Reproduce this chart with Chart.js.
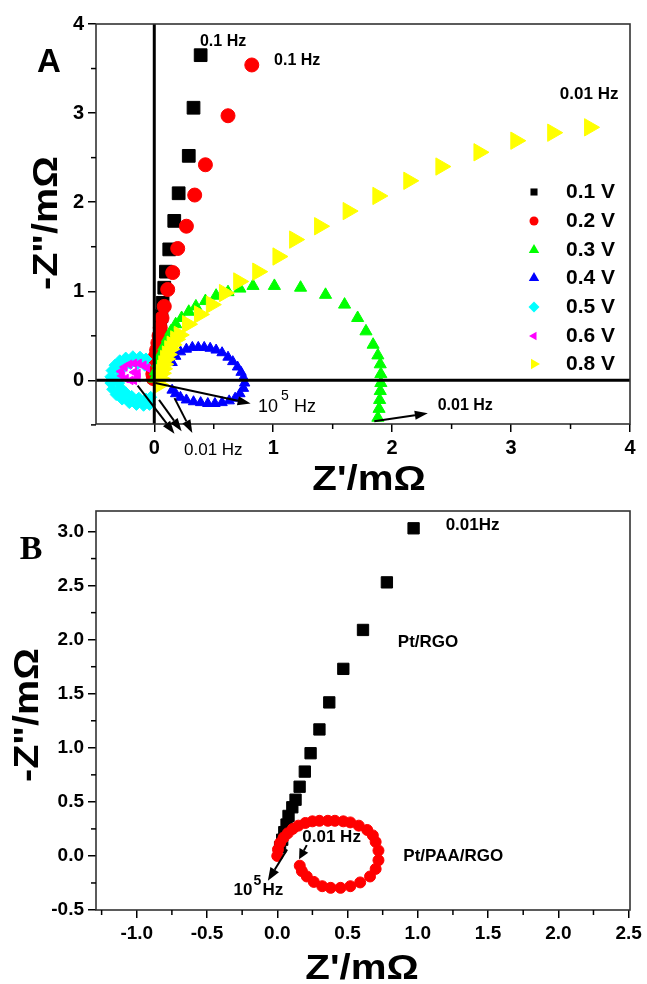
<!DOCTYPE html>
<html><head><meta charset="utf-8">
<script src="https://cdn.jsdelivr.net/npm/chart.js@4/dist/chart.umd.min.js"></script>
<style>
html,body{margin:0;padding:0;background:#fff;}
#wrap{position:relative;width:647px;height:984px;overflow:hidden;background:#fff;}
canvas{position:absolute;left:0;}
</style></head><body>
<div id="wrap">
<canvas id="cA" width="647" height="490" style="top:0px"></canvas>
<canvas id="cB" width="647" height="494" style="top:490px"></canvas>
</div>
<script>
// ---------------- DATA (panel A) ----------------
const labelsA = ['0.1 V','0.2 V','0.3 V','0.4 V','0.5 V','0.6 V','0.8 V'];
const xTicksA = [0,1,2,3,4];
const yTicksA = [0,1,2,3,4];
const v01 = [[0.39,3.65],[0.33,3.06],[0.29,2.52],[0.205,2.10],[0.168,1.79],[0.126,1.47],[0.098,1.22],[0.084,1.04],[0.07,0.87],[0.06,0.72],[0.05,0.58],[0.04,0.45],[0.03,0.33],[0.02,0.22],[0.01,0.12],[0.0,0.04]];
const v02 = [[0.82,3.54],[0.62,2.97],[0.43,2.42],[0.34,2.08],[0.27,1.73],[0.197,1.48],[0.155,1.21],[0.113,1.02],[0.084,0.83],[0.065,0.70],[0.05,0.59],[0.04,0.50],[0.03,0.42],[0.02,0.34],[0.01,0.27],[0.0,0.20],[-0.008,0.13],[-0.012,0.07],[-0.008,0.02]];
const v03 = [[0.0,0.02],[0.01,0.10],[0.03,0.19],[0.05,0.28],[0.08,0.38],[0.11,0.47],[0.14,0.55],[0.18,0.63],[0.23,0.70],[0.29,0.77],[0.35,0.83],[0.43,0.89],[0.52,0.95],[0.62,0.99],[0.72,1.03],[0.83,1.06],[1.01,1.06],[1.23,1.04],[1.44,0.96],[1.60,0.85],[1.71,0.70],[1.78,0.55],[1.84,0.40],[1.88,0.28],[1.90,0.18],[1.905,0.07],[1.905,-0.03],[1.90,-0.12],[1.895,-0.22],[1.89,-0.32],[1.88,-0.42]];
const v04 = [[0.15,0.20],[0.18,0.27],[0.22,0.32],[0.27,0.35],[0.32,0.37],[0.37,0.37],[0.42,0.37],[0.47,0.36],[0.52,0.34],[0.57,0.31],[0.62,0.26],[0.66,0.21],[0.70,0.15],[0.73,0.09],[0.75,0.03],[0.76,-0.03],[0.75,-0.09],[0.72,-0.15],[0.68,-0.20],[0.63,-0.23],[0.57,-0.25],[0.51,-0.26],[0.45,-0.26],[0.39,-0.25],[0.33,-0.24],[0.27,-0.22],[0.22,-0.19],[0.18,-0.15],[0.15,-0.11]];
const v05 = [[-0.07,0.24],[-0.12,0.26],[-0.18,0.265],[-0.24,0.25],[-0.29,0.22],[-0.33,0.17],[-0.355,0.11],[-0.365,0.04],[-0.365,-0.03],[-0.35,-0.10],[-0.32,-0.16],[-0.27,-0.21],[-0.21,-0.25],[-0.15,-0.27],[-0.09,-0.28],[-0.04,-0.27],
             [-0.08,0.17],[-0.14,0.19],[-0.20,0.19],[-0.25,0.16],[-0.29,0.11],[-0.30,0.04],[-0.30,-0.03],[-0.28,-0.09],[-0.24,-0.14],[-0.19,-0.18],[-0.13,-0.20],[-0.07,-0.21],[-0.03,-0.19]];
const v06 = [[-0.06,0.14],[-0.09,0.17],[-0.13,0.19],[-0.17,0.19],[-0.21,0.18],[-0.25,0.15],[-0.28,0.10],[-0.27,0.05],[-0.24,0.02],[-0.20,0.0],[-0.17,0.0],[-0.14,0.03],[-0.14,0.08],[-0.17,0.09]];
const v08 = [[0.04,-0.05],[0.05,0.02],[0.06,0.08],[0.07,0.13],[0.08,0.18],[0.095,0.24],[0.11,0.29],[0.13,0.35],[0.15,0.40],[0.18,0.46],[0.21,0.51],[0.28,0.63],[0.38,0.74],[0.48,0.85],[0.59,0.98],[0.71,1.11],[0.87,1.22],[1.04,1.39],[1.18,1.58],[1.39,1.73],[1.63,1.90],[1.88,2.07],[2.14,2.24],[2.41,2.40],[2.73,2.56],[3.04,2.69],[3.35,2.78],[3.66,2.84]];

// ---------------- DATA (panel B) ----------------
const xTicksB = [-1.0,-0.5,0.0,0.5,1.0,1.5,2.0,2.5];
const yTicksB = [-0.5,0.0,0.5,1.0,1.5,2.0,2.5,3.0];
const ptRGO = [[0.97,3.03],[0.78,2.53],[0.61,2.09],[0.47,1.73],[0.37,1.42],[0.30,1.17],[0.237,0.95],[0.196,0.78],[0.159,0.64],[0.13,0.52],[0.107,0.45],[0.08,0.37],[0.066,0.29],[0.05,0.22],[0.035,0.15],[0.02,0.08]];
const ptPAARGO = [[0.0,0.0],[0.005,0.06],[0.02,0.12],[0.045,0.17],[0.075,0.21],[0.11,0.25],[0.15,0.28],[0.20,0.305],[0.25,0.32],[0.30,0.325],[0.36,0.325],[0.41,0.325],[0.47,0.32],[0.52,0.31],[0.58,0.28],[0.64,0.24],[0.68,0.19],[0.70,0.13],[0.72,0.05],[0.72,-0.04],[0.70,-0.12],[0.66,-0.19],[0.59,-0.245],[0.52,-0.28],[0.45,-0.295],[0.38,-0.295],[0.32,-0.28],[0.26,-0.24],[0.21,-0.19],[0.175,-0.14],[0.16,-0.09]];

// ---------------- helpers ----------------
const SANS = '"Liberation Sans", Arial, sans-serif';
const SERIF = '"Liberation Serif", "Times New Roman", serif';
const pts = a => a.map(p => ({x:p[0], y:p[1]}));

function ds(label, arr, color, style, radius, rot, order){
  return {label, data: pts(arr), backgroundColor: color, borderColor: color, borderWidth: 1,
          pointStyle: style, pointRadius: radius, pointRotation: rot || 0, pointHoverRadius: radius, order};
}

function marker(ctx, style, color, x, y, r, rot){
  ctx.save(); ctx.fillStyle = color; ctx.translate(x, y); ctx.rotate((rot||0)*Math.PI/180);
  ctx.beginPath();
  if (style === 'rect'){ const s = r*Math.SQRT1_2; ctx.rect(-s,-s,2*s,2*s); }
  else if (style === 'circle'){ ctx.arc(0,0,r,0,Math.PI*2); }
  else if (style === 'rectRot'){ ctx.moveTo(0,-r); ctx.lineTo(r,0); ctx.lineTo(0,r); ctx.lineTo(-r,0); ctx.closePath(); }
  else { for (let i=0;i<3;i++){ const a = i*2*Math.PI/3; const px = Math.sin(a)*r, py = -Math.cos(a)*r; i?ctx.lineTo(px,py):ctx.moveTo(px,py);} ctx.closePath(); }
  ctx.fill(); ctx.restore();
}

function arrow(ctx, x1, y1, x2, y2, headLen, headW, lw){
  const ang = Math.atan2(y2-y1, x2-x1);
  const bx = x2 - Math.cos(ang)*headLen, by = y2 - Math.sin(ang)*headLen;
  ctx.save(); ctx.strokeStyle = '#000'; ctx.fillStyle = '#000'; ctx.lineWidth = lw;
  ctx.beginPath(); ctx.moveTo(x1,y1); ctx.lineTo(bx,by); ctx.stroke();
  ctx.beginPath(); ctx.moveTo(x2,y2);
  ctx.lineTo(bx + Math.sin(ang)*headW, by - Math.cos(ang)*headW);
  ctx.lineTo(bx - Math.sin(ang)*headW, by + Math.cos(ang)*headW);
  ctx.closePath(); ctx.fill(); ctx.restore();
}

function minorTicks(ctx, chart, xs, ys){
  const {chartArea: ca, scales: {x, y}} = chart;
  ctx.save(); ctx.strokeStyle = '#000'; ctx.lineWidth = 1.5;
  xs.forEach(v => { const px = x.getPixelForValue(v); ctx.beginPath(); ctx.moveTo(px, ca.bottom); ctx.lineTo(px, ca.bottom+5); ctx.stroke(); });
  ys.forEach(v => { const py = y.getPixelForValue(v); ctx.beginPath(); ctx.moveTo(ca.left, py); ctx.lineTo(ca.left-5, py); ctx.stroke(); });
  ctx.restore();
}

function frame(ctx, ca){
  ctx.save(); ctx.strokeStyle = '#333'; ctx.lineWidth = 1.6;
  ctx.strokeRect(ca.left, ca.top, ca.right-ca.left, ca.bottom-ca.top); ctx.restore();
}

function text(ctx, s, x, y, size, bold, align, font){
  ctx.save(); ctx.fillStyle = '#000'; ctx.font = (bold?'bold ':'') + size + 'px ' + (font||SANS);
  ctx.textAlign = align || 'left'; ctx.textBaseline = 'middle'; ctx.fillText(s, x, y); ctx.restore();
}

// stretched title text (wider along reading direction, like the reference)
function title(ctx, s, x, y, size, stretch, rotate){
  ctx.save(); ctx.translate(x, y); if (rotate) ctx.rotate(-Math.PI/2); ctx.scale(stretch, 1);
  text(ctx, s, 0, 0, size, true, 'center'); ctx.restore();
}

function axisCfg(min, max, tickVals, fmt, fontSize, fitKey, fitVal){
  return {
    type: 'linear', min, max,
    afterBuildTicks: s => { s.ticks = tickVals.map(v => ({value: v})); },
    afterFit: s => { s[fitKey] = fitVal; },
    grid: {display: true, drawOnChartArea: false, drawTicks: true, tickLength: 8, color: '#000', lineWidth: 1.5},
    border: {display: false},
    ticks: {color: '#000', padding: 4, autoSkip: false, maxRotation: 0, font: {family: SANS, size: fontSize, weight: 'bold'}, callback: v => fmt(v)}
  };
}

// ---------------- Panel A ----------------
const styleA = [
  ['rect','#000000',9,0],['circle','#ff0000',7,0],['triangle','#00ff00',7,0],['triangle','#0000ff',6,0],
  ['rectRot','#00ffff',6,0],['triangle','#ff00ff',5,-90],['triangle','#ffff00',10,90]
];
const seriesA = [v01, v02, v03, v04, v05, v06, v08];

const arrowsA = [ // data-space start/end of annotation arrows
  [[0.01,-0.03],[0.81,-0.26]],
  [[-0.14,-0.06],[0.17,-0.60]],
  [[0.04,-0.22],[0.23,-0.57]],
  [[0.17,-0.20],[0.32,-0.59]],
  [[1.85,-0.46],[2.30,-0.37]]
];

const decoA = {
  id: 'decoA',
  afterDatasetsDraw(chart){
    const {ctx, chartArea: ca, scales: {x, y}} = chart;
    ctx.save(); ctx.strokeStyle = '#000'; ctx.lineWidth = 3;
    const y0 = y.getPixelForValue(0), x0 = x.getPixelForValue(0);
    ctx.beginPath(); ctx.moveTo(ca.left, y0); ctx.lineTo(ca.right, y0); ctx.stroke();
    ctx.beginPath(); ctx.moveTo(x0, ca.top); ctx.lineTo(x0, ca.bottom); ctx.stroke();
    ctx.restore();
  },
  afterDraw(chart){
    const {ctx, chartArea: ca, scales: {x, y}} = chart;
    frame(ctx, ca);
    minorTicks(ctx, chart, [0.5,1.5,2.5,3.5], [-0.5,0.5,1.5,2.5,3.5]);
    arrowsA.forEach(a => arrow(ctx, x.getPixelForValue(a[0][0]), y.getPixelForValue(a[0][1]),
                                    x.getPixelForValue(a[1][0]), y.getPixelForValue(a[1][1]), 13, 4.5, 2));
    const P = (vx, vy) => [x.getPixelForValue(vx), y.getPixelForValue(vy)];
    let p;
    p = P(0.384, 3.80); text(ctx, '0.1 Hz', p[0], p[1], 16, true);
    p = P(1.007, 3.59); text(ctx, '0.1 Hz', p[0], p[1], 16, true);
    p = P(3.41, 3.21); text(ctx, '0.01 Hz', p[0], p[1], 17, true);
    p = P(2.383, -0.284); text(ctx, '0.01 Hz', p[0], p[1], 16, true);
    p = P(0.25, -0.78); text(ctx, '0.01 Hz', p[0], p[1], 17, false);
    p = P(0.872, -0.295);
    text(ctx, '10', p[0], p[1], 18, false);
    text(ctx, '5', p[0]+23, p[1]-10, 14, false);
    text(ctx, 'Hz', p[0]+36, p[1], 18, false);
    // legend
    const ly = [192, 221, 250, 278, 307, 336, 364];
    const lr = [5, 4.5, 6, 6, 5.5, 5, 6];
    labelsA.forEach((lab, i) => {
      marker(ctx, styleA[i][0], styleA[i][1], 534, ly[i], lr[i], styleA[i][3]);
      text(ctx, lab, 566, ly[i], 21, true);
    });
    // axis titles & panel letter
    title(ctx, "Z'/mΩ", 369, 480, 35, 1.15, false);
    title(ctx, '-Z"/mΩ', 47, 223, 35, 1.13, true);
    text(ctx, 'A', 49, 63, 33, true, 'center');
  }
};

new Chart(document.getElementById('cA'), {
  type: 'scatter',
  data: {datasets: seriesA.map((s, i) => ds(labelsA[i], s, styleA[i][1], styleA[i][0], styleA[i][2], styleA[i][3], -i))},
  options: {
    responsive: false, animation: false, devicePixelRatio: 1,
    layout: {padding: {left: 36, top: 24, right: 17, bottom: 26}},
    plugins: {legend: {display: false}, tooltip: {enabled: false}},
    scales: {
      x: axisCfg(-0.49, 4, xTicksA, v => String(v), 20, 'height', 40),
      y: axisCfg(-0.49, 4, yTicksA, v => String(v), 20, 'width', 60)
    }
  },
  plugins: [decoA]
});

// ---------------- Panel B ----------------
const arrowsB = [
  [[0.07,0.06],[-0.067,-0.23], 13, 5],
  [[0.21,0.10],[0.155,-0.03], 10, 5]
];
const decoB = {
  id: 'decoB',
  afterDraw(chart){
    const {ctx, chartArea: ca, scales: {x, y}} = chart;
    frame(ctx, ca);
    minorTicks(ctx, chart, [-1.25,-0.75,-0.25,0.25,0.75,1.25,1.75,2.25], [-0.25,0.25,0.75,1.25,1.75,2.25,2.75]);
    arrowsB.forEach(a => arrow(ctx, x.getPixelForValue(a[0][0]), y.getPixelForValue(a[0][1]),
                                    x.getPixelForValue(a[1][0]), y.getPixelForValue(a[1][1]), a[2], a[3], 2));
    const P = (vx, vy) => [x.getPixelForValue(vx), y.getPixelForValue(vy)];
    let p;
    p = P(1.198, 3.06); text(ctx, '0.01Hz', p[0], p[1], 17, true);
    p = P(0.858, 1.98); text(ctx, 'Pt/RGO', p[0], p[1], 17, true);
    p = P(0.897, 0.0); text(ctx, 'Pt/PAA/RGO', p[0], p[1], 17, true);
    p = P(0.178, 0.17); text(ctx, '0.01 Hz', p[0], p[1], 17, true);
    p = P(-0.311, -0.32);
    text(ctx, '10', p[0], p[1], 17, true);
    text(ctx, '5', p[0]+20, p[1]-9, 14, true);
    text(ctx, 'Hz', p[0]+29, p[1], 17, true);
    title(ctx, "Z'/mΩ", 362, 479, 35, 1.15, false);
    title(ctx, '-Z"/mΩ', 28, 225, 35, 1.13, true);
    text(ctx, 'B', 31, 60, 34, true, 'center', SERIF);
  }
};

new Chart(document.getElementById('cB'), {
  type: 'scatter',
  data: {datasets: [
    ds('Pt/RGO', ptRGO, '#000000', 'rect', 8, 0, 1),
    ds('Pt/PAA/RGO', ptPAARGO, '#ff0000', 'circle', 5.5, 0, 0)
  ]},
  options: {
    responsive: false, animation: false, devicePixelRatio: 1,
    layout: {padding: {left: 36, top: 21, right: 17, bottom: 34}},
    plugins: {legend: {display: false}, tooltip: {enabled: false}},
    scales: {
      x: axisCfg(-1.29, 2.51, xTicksB, v => v.toFixed(1), 19, 'height', 40),
      y: axisCfg(-0.5, 3.19, yTicksB, v => v.toFixed(1), 19, 'width', 60)
    }
  },
  plugins: [decoB]
});
</script>
</body></html>
